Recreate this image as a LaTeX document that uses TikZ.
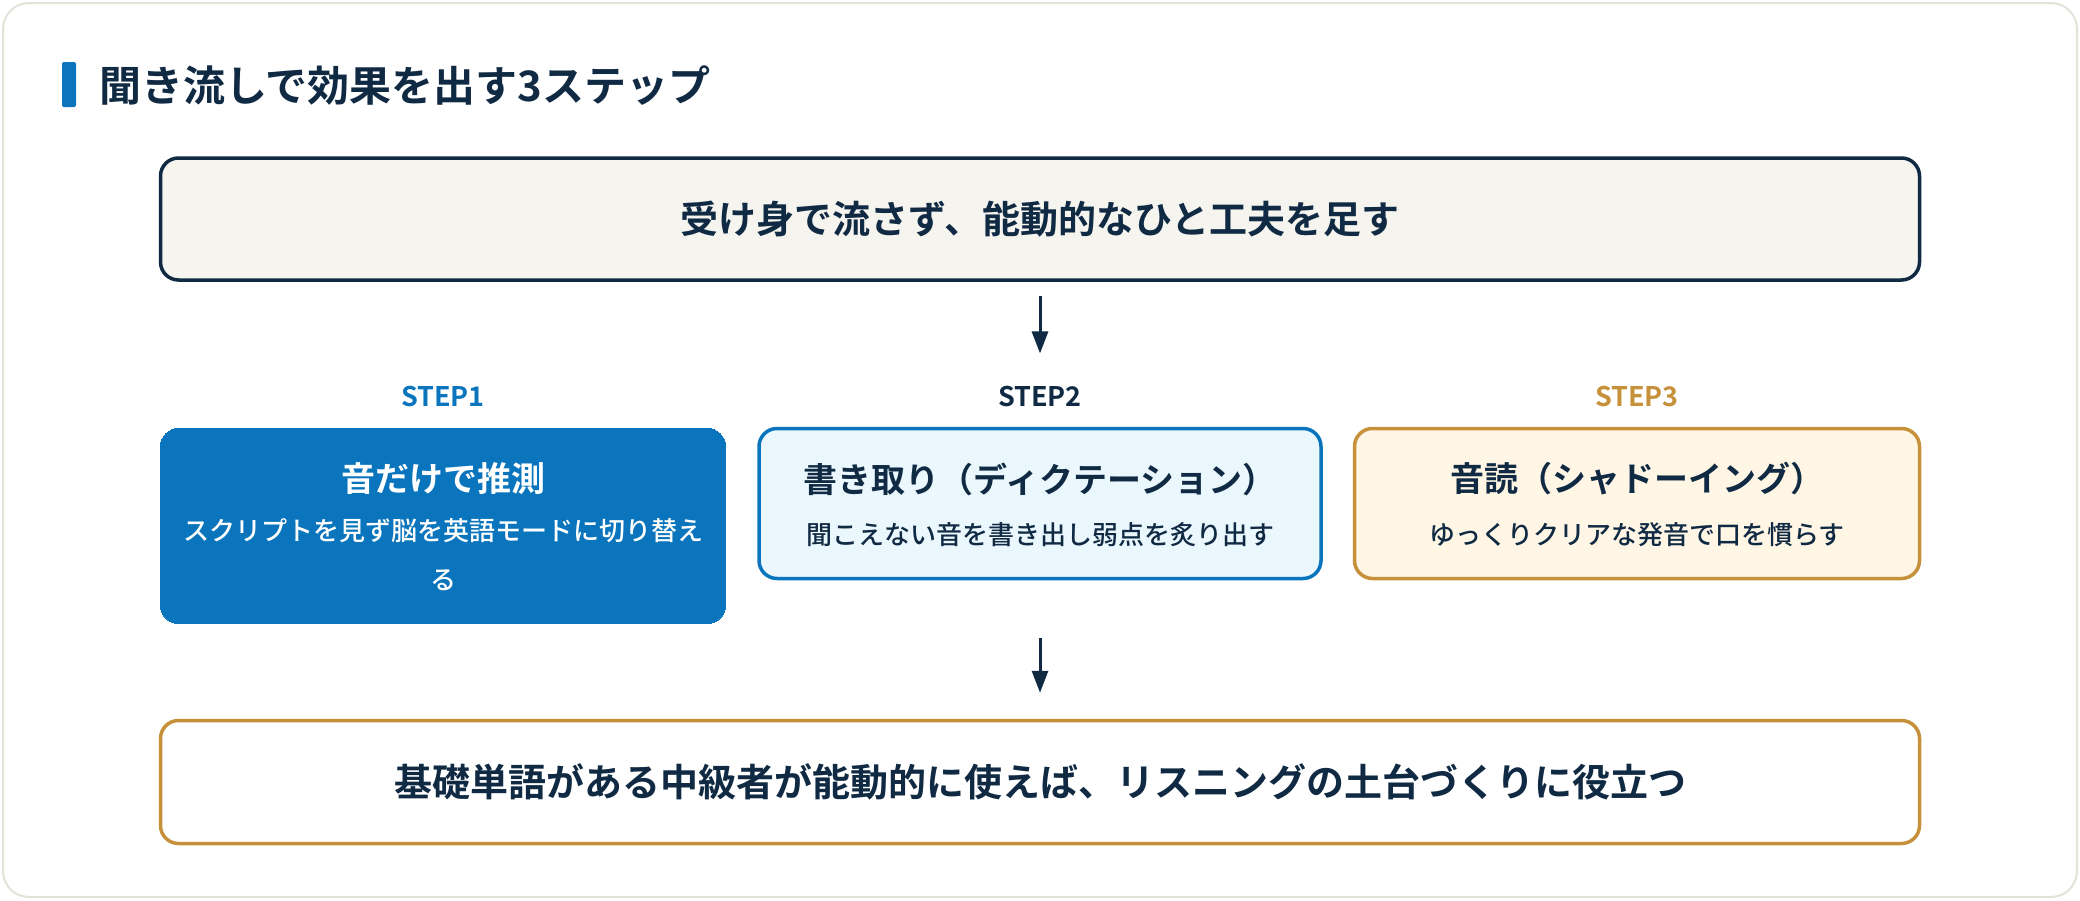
\documentclass[tikz,border=0pt]{standalone}
\usepackage{fontspec}
\setmainfont{Noto Sans CJK JP}[BoldFont={Noto Sans CJK JP Bold}]
\newfontfamily\jpmed{Noto Sans CJK JP Medium}
\usetikzlibrary{arrows.meta}
\definecolor{navy}{HTML}{102A43}
\definecolor{bluec}{HTML}{0A75BC}
\definecolor{goldc}{HTML}{C6913A}
\definecolor{lightblue}{HTML}{EAF7FD}
\definecolor{cream}{HTML}{FFF6E6}
\definecolor{paper}{HTML}{F5F4EF}
\definecolor{cardline}{HTML}{E5E2D8}
\tikzset{
  box/.style={draw, line width=3.5pt, rounded corners=18pt, minimum width=#1, inner sep=0pt},
  boxtitle/.style={font=\bfseries\fontsize{34}{40}\selectfont, text=navy, inner sep=0pt},
  boxsub/.style={font=\jpmed\fontsize{26}{49}\selectfont, text=navy, inner sep=0pt, align=center},
  steplab/.style={font=\bfseries\fontsize{27}{32}\selectfont, inner sep=0pt},
  bigtext/.style={font=\bfseries\fontsize{38}{44}\selectfont, text=navy, inner sep=0pt},
  arr/.style={draw=navy, line width=3pt, -{Triangle[length=22pt,width=16pt]}},
}
\begin{document}
\begin{tikzpicture}[x=1pt,y=-1pt]
\useasboundingbox (0,0) rectangle (2080,900);
\fill[white] (0,0) rectangle (2080,900);
% card
\draw[cardline, line width=2pt, fill=white, rounded corners=26pt] (3,3) rectangle (2077,897);
% title
\fill[bluec, rounded corners=2pt] (62,62) rectangle (76,107);
\node[anchor=west, font=\bfseries\fontsize{42}{48}\selectfont, text=navy, inner sep=0pt] (title) at (99,86) {聞き流しで効果を出す3ステップ};
% top box
\node[box=1759pt, minimum height=122pt, draw=navy, fill=paper] (top) at (1040,219) {};
\node[bigtext] (toptext) at (1040,219) {受け身で流さず、能動的なひと工夫を足す};
% step labels
\node[steplab, text=bluec] (lab1) at (443,397) {STEP1};
\node[steplab, text=navy] (lab2) at (1040,397) {STEP2};
\node[steplab, text=goldc] (lab3) at (1637,397) {STEP3};
% step boxes
\node[box=565pt, minimum height=195pt, draw=bluec, fill=bluec, line width=0pt] (box1) at (443,526) {};
\node[box=562pt, minimum height=150pt, draw=bluec, fill=lightblue] (box2) at (1040,503.5) {};
\node[box=565pt, minimum height=150pt, draw=goldc, fill=cream] (box3) at (1637,503.5) {};
\node[boxtitle, text=white] (t1) at (443,479) {音だけで推測};
\node[boxsub, text=white, anchor=north] (s1) at (443,518) {スクリプトを見ず脳を英語モードに切り替え\\る};
\node[boxtitle] (t2) at (1040,479) {書き取り（ディクテーション）};
\node[boxsub] (s2) at (1040,535) {聞こえない音を書き出し弱点を炙り出す};
\node[boxtitle] (t3) at (1637,479) {音読（シャドーイング）};
\node[boxsub] (s3) at (1637,535) {ゆっくりクリアな発音で口を慣らす};
% bottom box
\node[box=1759pt, minimum height=123pt, draw=goldc, fill=white] (bot) at (1040,782) {};
\node[bigtext] (bottext) at (1040,782) {基礎単語がある中級者が能動的に使えば、リスニングの土台づくりに役立つ};
% arrows
\draw[arr] ([yshift=-14pt]top.south) -- ([yshift=33pt]lab2.north);
\draw[arr] ([yshift=-14.5pt]box1.south -| bot.north) -- ([yshift=26pt]bot.north);
\end{tikzpicture}
\end{document}
